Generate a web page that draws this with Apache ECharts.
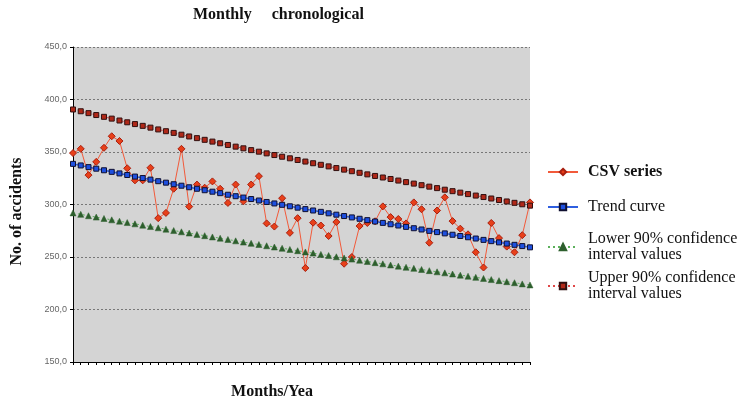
<!DOCTYPE html>
<html>
<head>
<meta charset="utf-8">
<script src="https://cdn.jsdelivr.net/npm/echarts@6/dist/echarts.min.js"></script>
<style>html,body{margin:0;padding:0;background:#fff}#c{width:749px;height:405px}</style>
</head>
<body>
<div id="c"></div>
<script>
var months = [1,2,3,4,5,6,7,8,9,10,11,12,13,14,15,16,17,18,19,20,21,22,23,24,25,26,27,28,29,30,
  31,32,33,34,35,36,37,38,39,40,41,42,43,44,45,46,47,48,49,50,51,52,53,54,55,56,57,58,59,60];
var yTicks = [150,200,250,300,350,400,450];
var csvSeries = [349,353,328,340.6,354,365,360.5,334.5,323,323,335,287,292,315,353,298,319,316,322,315,
  301.5,319,303,319,327,282,279,306,273,287,239.5,282.7,280,270,283.3,243.6,250,279.5,282.4,284,
  298.2,288,286.2,282,302,295.5,263.6,294.3,306.8,284.2,277,271.6,254.5,240,282.4,268,259.9,254.5,270.8,302];
var trendCurve = [338.7,337.2,335.6,334.1,332.6,331.1,329.6,328.1,326.6,325.2,323.7,322.2,320.8,319.3,317.9,316.4,315.0,313.6,312.2,310.8,
  309.3,307.9,306.6,305.2,303.8,302.4,301.0,299.7,298.3,297.0,295.6,294.3,293.0,291.6,290.3,289.0,287.7,286.4,285.1,283.8,
  282.5,281.2,280.0,278.7,277.4,276.2,274.9,273.7,272.5,271.2,270.0,268.8,267.6,266.3,265.1,263.9,262.8,261.6,260.4,259.2];
var lowerCI = [292.0,290.6,289.3,288.0,286.7,285.4,284.1,282.8,281.6,280.3,279.0,277.8,276.5,275.2,274.0,272.8,271.5,270.3,269.1,267.9,
  266.7,265.4,264.2,263.0,261.9,260.7,259.5,258.3,257.2,256.0,254.8,253.7,252.5,251.4,250.2,249.1,248.0,246.9,245.7,244.6,
  243.5,242.4,241.3,240.2,239.2,238.1,237.0,235.9,234.9,233.8,232.7,231.7,230.6,229.6,228.5,227.5,226.5,225.5,224.4,223.4];
var upperCI = [390.5,388.8,387.0,385.2,383.5,381.8,380.0,378.3,376.6,374.9,373.2,371.5,369.8,368.2,366.5,364.8,363.2,361.6,359.9,358.3,
  356.7,355.1,353.5,351.8,350.3,348.7,347.1,345.5,344.0,342.4,340.9,339.3,337.8,336.3,334.7,333.2,331.7,330.2,328.7,327.2,
  325.7,324.3,322.8,321.3,319.9,318.4,317.0,315.6,314.1,312.7,311.3,309.9,308.5,307.1,305.7,304.3,302.9,301.6,300.2,298.9];

var names = ['CSV series','Trend curve','Lower 90% confidence\ninterval values','Upper 90% confidence\ninterval values'];
var serif = '"Liberation Serif","DejaVu Serif",serif';
function mkLegend(name, top, bold) {
  return {
    left: 547, top: top, orient: 'vertical', padding: 0,
    itemWidth: 30, itemHeight: 8,
    data: [{name: name, textStyle: {fontWeight: bold ? 'bold' : 'normal'}}],
    textStyle: {fontFamily: serif, fontSize: 16, lineHeight: 16, color: '#111', padding: [0,0,0,5]}
  };
}
var chart = echarts.init(document.getElementById('c'));
chart.setOption({
  animation: false,
  backgroundColor: '#fff',
  title: {
    text: 'Monthly     chronological',
    left: 193, top: 7, padding: 0,
    textStyle: {fontFamily: serif, fontSize: 16, fontWeight: 'bold', color: '#111'}
  },
  legend: [
    mkLegend(names[0], 164, true),
    mkLegend(names[1], 199, false),
    mkLegend(names[2], 231, false),
    mkLegend(names[3], 270, false)
  ],
  grid: {left: 73, right: 219, top: 47, bottom: 38, show: true, backgroundColor: '#d4d4d4', borderWidth: 0},
  xAxis: {
    type: 'category', data: months, boundaryGap: false,
    name: 'Months/Yea', nameLocation: 'middle', nameGap: 22,
    nameTextStyle: {fontFamily: serif, fontSize: 16, fontWeight: 'bold', color: '#111', padding: [0, 59, 0, 0]},
    axisLine: {lineStyle: {color: '#000', width: 1}},
    axisTick: {interval: 0, length: 3, lineStyle: {color: '#000'}},
    axisLabel: {show: false},
    splitLine: {show: false}
  },
  yAxis: {
    type: 'value', min: yTicks[0], max: yTicks[yTicks.length-1], interval: yTicks[1]-yTicks[0],
    name: 'No. of accidents', nameLocation: 'middle', nameGap: 48, nameRotate: 90,
    nameTextStyle: {fontFamily: serif, fontSize: 16, fontWeight: 'bold', color: '#111', padding: [0,14,0,0]},
    axisLine: {show: true, lineStyle: {color: '#000', width: 1}},
    axisTick: {show: true, length: 3, lineStyle: {color: '#000'}},
    axisLabel: {fontFamily: 'Liberation Sans, Arial, sans-serif', fontSize: 9, color: '#666', margin: 6,
      formatter: function (v) { return v.toFixed(1).replace('.', ','); }},
    splitLine: {show: true, lineStyle: {color: '#777', width: 1, type: [2, 2]}}
  },
  series: [
    {name: names[0], type: 'line', data: csvSeries, symbol: 'diamond', symbolSize: 7, showAllSymbol: true,
      lineStyle: {color: '#f25a3a', width: 1},
      itemStyle: {color: '#e8401a', borderColor: '#a82010', borderWidth: 1}, z: 2},
    {name: names[1], type: 'line', data: trendCurve, symbol: 'rect', symbolSize: 5, showAllSymbol: true,
      lineStyle: {color: '#2f5fe0', width: 1.5},
      itemStyle: {color: '#1e50e0', borderColor: '#101030', borderWidth: 1}, z: 3},
    {name: names[2], type: 'line', data: lowerCI, symbol: 'triangle', symbolSize: 6, showAllSymbol: true,
      lineStyle: {color: '#5cb05c', width: 1, type: [2, 3]},
      itemStyle: {color: '#2d5f2d', borderColor: '#2d5f2d', borderWidth: 0.5}, z: 4},
    {name: names[3], type: 'line', data: upperCI, symbol: 'rect', symbolSize: 5, showAllSymbol: true,
      lineStyle: {color: '#e04848', width: 1, type: [2, 3]},
      itemStyle: {color: '#b02818', borderColor: '#301010', borderWidth: 1}, z: 5}
  ]
});
</script>
</body>
</html>
